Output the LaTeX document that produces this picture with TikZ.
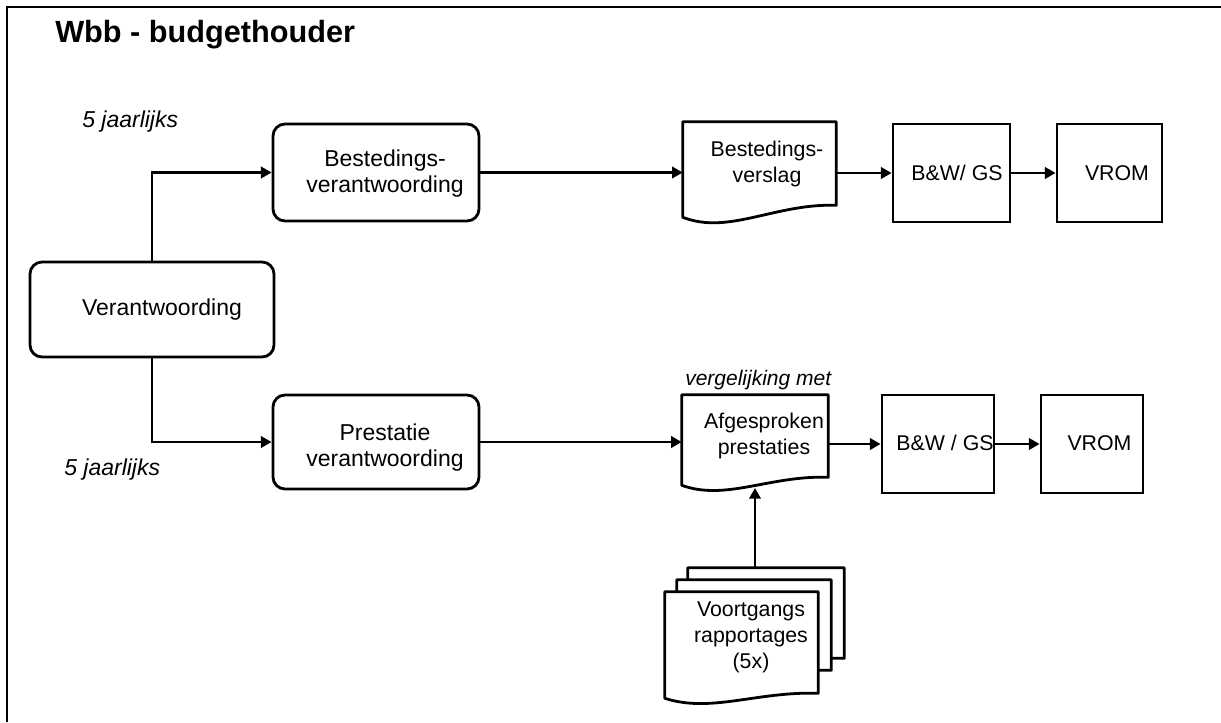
\documentclass[tikz,border=0pt]{standalone}
\usepackage{fontspec}
\setmainfont{Liberation Sans}
\usetikzlibrary{arrows.meta,calc}
\newcommand\docshape[3]{%
  \draw[docline] (#1.north west) -- (#1.north east) -- (#1.south east)
    .. controls ($(#1.south east)!0.4!(#1.south west)+(0,-2)$) and ($(#1.south east)!0.7!(#1.south west)+(0,#3)$)
    .. ($(#1.south west)+(0,#2)$) -- cycle;}
\begin{document}
\begin{tikzpicture}[x=0.75pt,y=-0.75pt,
  rbox/.style={draw, line width=2.1pt, rounded corners=9pt, inner sep=0pt, minimum width=154.5pt},
  sqbox/.style={draw, line width=2.1pt, inner sep=0pt, minimum height=73.5pt},
  docrect/.style={draw=none, inner sep=0pt},
  docline/.style={line width=2.1pt, fill=white, line join=round},
  lt/.style={font=\fontsize{17.25}{19.5}\selectfont, align=center, inner sep=0pt},
  rt/.style={font=\fontsize{16}{19.5}\selectfont, align=center, inner sep=0pt},
  it/.style={font=\fontsize{17.25}{19.5}\selectfont\itshape, inner sep=0pt, anchor=west},
  arr/.style={line width=2.1pt, -{Triangle[length=8pt,width=8.5pt]}},
  frameline/.style={line width=1.8pt}]
\useasboundingbox (0,0) rectangle (1221,722);
\fill[white] (0,0) rectangle (1221,722);
\draw[frameline] (7,722) -- (7,7) -- (1221,7);

% title and notes
\node[font=\fontsize{23}{27}\selectfont\bfseries, inner sep=0pt, anchor=west] (title) at (55,35) {Wbb - budgethouder};
\node[it] (jaar1) at (82,122) {5 jaarlijks};
\node[it] (jaar2) at (64,470) {5 jaarlijks};
\node[font=\fontsize{15.75}{19}\selectfont\itshape, inner sep=0pt, anchor=west] (verg) at (685,380) {vergelijking met};

% left column
\node[rbox, minimum width=183pt, minimum height=71.25pt] (verant) at (152,309.5) {};
\node[lt] (verant-t) at (162,310) {Verantwoording};
\node[rbox, minimum height=72.75pt] (bv) at (376,172.5) {};
\node[lt] (bv-t) at (385,174) {Bestedings-\\verantwoording};
\node[rbox, minimum height=70.5pt] (pv) at (376,442) {};
\node[lt] (pv-t) at (385,448) {Prestatie\\verantwoording};

% documents
\node[docrect, minimum width=114.75pt, minimum height=62.25pt] (bvs) at (759.5,163.5) {};
\docshape{bvs}{12}{30}
\node[rt] (bvs-t) at (767,163.5) {Bestedings-\\verslag};

\node[docrect, minimum width=109.5pt, minimum height=61.5pt] (afg) at (755,436) {};
\docshape{afg}{8}{24}
\node[rt] (afg-t) at (764,436) {Afgesproken\\prestaties};

\node[docrect, minimum width=117pt, minimum height=67.5pt] (back) at (766,613) {};
\docshape{back}{5}{20}
\node[docrect, minimum width=115.5pt, minimum height=67.5pt] (mid) at (754,625) {};
\docshape{mid}{5}{20}
\node[docrect, minimum width=114.75pt, minimum height=75.75pt] (front) at (741.5,642.5) {};
\docshape{front}{5}{20}
\node[rt] (vg-t) at (751,637) {Voortgangs\\rapportages\\(5x)};

% right boxes
\node[sqbox, minimum width=87.75pt] (bw1) at (951.5,173) {};
\node[rt] (bw1-t) at (957,173) {B\&W/ GS};
\node[sqbox, minimum width=78.75pt] (vrom1) at (1109.5,173) {};
\node[rt] (vrom1-t) at (1117,173) {VROM};
\node[sqbox, minimum width=84pt] (bw2) at (938,444) {};
\node[sqbox, minimum width=76.5pt] (vrom2) at (1092,444) {};
\node[rt] (vrom2-t) at (1099.5,443) {VROM};

% connectors
\draw[arr] (verant.north) |- (bv.west);
\draw[arr] (verant.south) |- (pv.west);
\draw[arr] (bv.east) -- (bv.east -| bvs.west);
\draw[arr] (bvs.east |- bw1.west) -- (bw1.west);
\draw[arr] (bw1.east) -- (vrom1.west);
\draw[arr] (pv.east) -- (pv.east -| afg.west);
\draw[arr] (afg.east |- bw2.west) -- (bw2.west);
\draw[arr] (bw2.east) -- (vrom2.west);
\coordinate (afgtip) at (755,488);
\draw[arr] (afgtip |- back.north) -- (afgtip);
\node[rt] (bw2-t) at (945,443) {B\&W / GS};
\end{tikzpicture}
\end{document}
